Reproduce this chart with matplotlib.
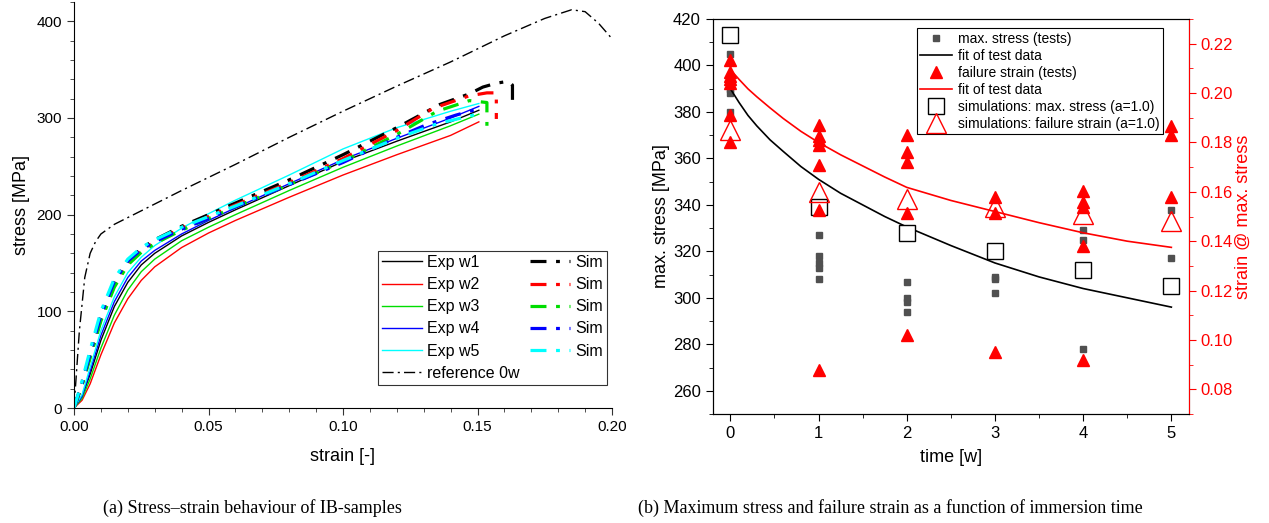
import matplotlib
matplotlib.use("Agg")
import matplotlib.pyplot as plt
from matplotlib.ticker import MultipleLocator
from matplotlib.lines import Line2D

plt.rcParams["font.family"] = ["Liberation Sans", "DejaVu Sans"]

# ---- (a) stress-strain curves ----
exp_strain = [0, 0.003, 0.006, 0.01, 0.015, 0.02, 0.025, 0.03, 0.04, 0.05, 0.06, 0.08, 0.10, 0.12, 0.14, 0.1505]
exp_w1 = [0, 12, 35, 70, 105, 130, 148, 160, 178, 192, 205, 230, 255, 276, 296, 308]
exp_w2 = [0, 8, 25, 55, 88, 113, 132, 146, 166, 181, 194, 218, 241, 262, 282, 296]
exp_w3 = [0, 10, 30, 62, 96, 122, 141, 154, 173, 187, 200, 225, 249, 271, 292, 304]
exp_w4 = [0, 12, 38, 75, 110, 135, 152, 163, 180, 194, 207, 232, 257, 279, 300, 312]
exp_w5 = [0, 14, 42, 80, 115, 140, 156, 168, 186, 201, 215, 241, 268, 290, 307, 315]

sim_w1_x = [0, 0.003, 0.006, 0.01, 0.015, 0.02, 0.025, 0.03, 0.04, 0.05, 0.06, 0.08, 0.10, 0.12, 0.136, 0.147, 0.152, 0.157, 0.1615, 0.163, 0.163]
sim_w1_y = [0, 25, 55, 95, 130, 152, 165, 174, 188, 200, 212, 236, 262, 290, 314, 325, 332, 336, 338, 334, 310]
sim_w2_x = [0, 0.003, 0.006, 0.01, 0.015, 0.02, 0.025, 0.03, 0.04, 0.05, 0.06, 0.08, 0.10, 0.12, 0.1335, 0.147, 0.1535, 0.157, 0.157]
sim_w2_y = [0, 24, 53, 92, 127, 150, 163, 172, 186, 198, 210, 233, 258, 287, 310, 323, 326, 326, 299]
sim_w3_x = [0, 0.003, 0.006, 0.01, 0.015, 0.02, 0.025, 0.03, 0.04, 0.05, 0.06, 0.08, 0.10, 0.12, 0.135, 0.147, 0.1535, 0.1535]
sim_w3_y = [0, 24, 52, 90, 125, 148, 161, 170, 184, 196, 208, 231, 255, 283, 307, 318, 316, 290]
sim_w4_x = [0, 0.003, 0.006, 0.01, 0.015, 0.02, 0.025, 0.03, 0.04, 0.05, 0.06, 0.08, 0.10, 0.12, 0.131, 0.142, 0.1497]
sim_w4_y = [0, 26, 56, 96, 131, 152, 164, 172, 185, 196, 208, 231, 254, 280, 293, 303, 309]
sim_w5_x = [0, 0.003, 0.006, 0.01, 0.015, 0.02, 0.025, 0.03, 0.04, 0.05, 0.06, 0.08, 0.10, 0.12, 0.135, 0.15]
sim_w5_y = [0, 28, 60, 100, 134, 154, 166, 174, 187, 198, 209, 232, 256, 279, 294, 304]

ref_strain = [0, 0.002, 0.004, 0.006, 0.008, 0.01, 0.015, 0.02, 0.04, 0.06, 0.08, 0.10, 0.12, 0.14, 0.16, 0.175, 0.185, 0.19, 0.195, 0.2]
ref_stress = [0, 80, 135, 160, 172, 180, 190, 197, 225, 252, 280, 307, 333, 358, 385, 403, 412, 410, 398, 382]

exp_curves = [exp_w1, exp_w2, exp_w3, exp_w4, exp_w5]
sim_curves = [(sim_w1_x, sim_w1_y), (sim_w2_x, sim_w2_y), (sim_w3_x, sim_w3_y),
              (sim_w4_x, sim_w4_y), (sim_w5_x, sim_w5_y)]
colors = ["black", "red", "#00dd00", "blue", "cyan"]
exp_labels = ["Exp w1", "Exp w2", "Exp w3", "Exp w4", "Exp w5"]

# ---- (b) immersion time data ----
t_stress = [0] * 4 + [1] * 5 + [2] * 4 + [3] * 3 + [4] * 3 + [5] * 2
max_stress = [405, 390, 388, 380,
              327, 318, 315, 313, 308,
              307, 300, 298, 294,
              309, 308, 302,
              329, 325, 278,
              338, 317]
t_strain = [0] * 7 + [1] * 7 + [2] * 5 + [3] * 3 + [4] * 5 + [5] * 3
fail_strain = [0.2135, 0.2085, 0.207, 0.2055, 0.204, 0.191, 0.180,
               0.187, 0.1825, 0.181, 0.179, 0.171, 0.1525, 0.088,
               0.183, 0.176, 0.172, 0.1515, 0.102,
               0.158, 0.1515, 0.095,
               0.1605, 0.156, 0.154, 0.138, 0.092,
               0.1865, 0.183, 0.158]
t_fit = [0, 0.1, 0.2, 0.3, 0.45, 0.6, 0.8, 1.0, 1.25, 1.5, 1.75, 2.0, 2.5, 3.0, 3.5, 4.0, 4.5, 5.0]
fit_stress = [390, 384, 378.5, 374, 368, 363, 356.5, 351, 345, 340, 335, 330.5, 322.5, 315, 309, 304, 300, 296]
fit_strain = [0.2095, 0.2055, 0.2017, 0.1985, 0.194, 0.1897, 0.1845, 0.180, 0.175, 0.1705,
              0.166, 0.1618, 0.1565, 0.152, 0.1475, 0.1434, 0.140, 0.1375]
t_sim = [0, 1, 2, 3, 4, 5]
sim_stress = [413, 339, 328, 320, 312, 305]
sim_strain = [0.185, 0.160, 0.157, 0.154, 0.151, 0.148]

W, H = 1269, 523
fig = plt.figure(figsize=(W / 100, H / 100), dpi=100)

# left panel
ax1 = fig.add_axes([74 / W, 1 - 408 / H, (612 - 74) / W, (408 - 2) / H])
handles = []
for y, c, lab in zip(exp_curves, colors, exp_labels):
    h, = ax1.plot(exp_strain, y, color=c, lw=1.0, label=lab)
    handles.append(h)
h_ref, = ax1.plot(ref_strain, ref_stress, color="black", lw=1.0, ls=(0, (8, 3, 1.5, 3)), label="reference 0w")
handles.append(h_ref)
for (x, y), c in zip(sim_curves, colors):
    h, = ax1.plot(x, y, color=c, lw=2.3, ls=(0, (5, 3, 1.2, 3)), label="Sim")
    handles.append(h)

ax1.set_xlim(0, 0.2)
ax1.set_ylim(0, 420)
ax1.spines["top"].set_visible(False)
ax1.spines["right"].set_visible(False)
ax1.xaxis.set_major_locator(MultipleLocator(0.05))
ax1.xaxis.set_minor_locator(MultipleLocator(0.01))
ax1.yaxis.set_major_locator(MultipleLocator(100))
ax1.yaxis.set_minor_locator(MultipleLocator(20))
ax1.xaxis.set_major_formatter(plt.FuncFormatter(lambda v, p: f"{v:.2f}"))
ax1.tick_params(labelsize=11, length=5, direction="out", colors="#333333", labelcolor="black")
ax1.tick_params(which="minor", length=3, colors="#333333")
ax1.set_xlabel("strain [-]", fontsize=13, labelpad=10)
ax1.set_ylabel("stress [MPa]", fontsize=13, labelpad=5)
leg1 = ax1.legend(handles=handles, ncol=2, loc="lower right", bbox_to_anchor=(0.99, 0.057),
                  fontsize=11.5, frameon=True, fancybox=False, edgecolor="black",
                  handlelength=2.5, columnspacing=0.7, labelspacing=0.45, borderpad=0.25,
                  handletextpad=0.3, borderaxespad=0.0)
leg1.get_frame().set_linewidth(0.8)

# right panel
ax2 = fig.add_axes([712.7 / W, 1 - 414 / H, (1189 - 712.7) / W, (414 - 19) / H])
ax3 = ax2.twinx()
ax2.plot(t_stress, max_stress, ls="none", marker="s", ms=5, color="#505050")
ax2.plot(t_fit, fit_stress, color="black", lw=1.2)
ax2.plot(t_sim, sim_stress, ls="none", marker="s", ms=12, mfc="white", mec="black", mew=1.0)
ax3.plot(t_strain, fail_strain, ls="none", marker="^", ms=8, color="red")
ax3.plot(t_fit, fit_strain, color="red", lw=1.2)
ax3.plot(t_sim, sim_strain, ls="none", marker="^", ms=15, mfc="none", mec="red", mew=1.0)

ax2.set_xlim(-0.2, 5.2)
ax2.set_ylim(250, 420)
ax3.set_ylim(0.07, 0.23)
ax2.xaxis.set_major_locator(MultipleLocator(1))
ax2.xaxis.set_minor_locator(MultipleLocator(0.5))
ax2.yaxis.set_major_locator(MultipleLocator(20))
ax2.yaxis.set_minor_locator(MultipleLocator(10))
ax3.yaxis.set_major_locator(MultipleLocator(0.02))
ax3.yaxis.set_minor_locator(MultipleLocator(0.01))
ax3.yaxis.set_major_formatter(plt.FuncFormatter(lambda v, p: f"{v:.2f}"))
ax2.tick_params(labelsize=12, length=5, direction="out")
ax2.tick_params(which="minor", length=3)
ax3.tick_params(axis="y", labelsize=12, length=5, direction="out", colors="red")
ax3.tick_params(axis="y", which="minor", length=3, colors="red")
ax3.spines["right"].set_color("red")
ax2.set_xlabel("time [w]", fontsize=13, labelpad=6)
ax2.set_ylabel("max. stress [MPa]", fontsize=13, labelpad=2)
ax3.set_ylabel("strain @ max. stress", fontsize=13, color="red", labelpad=1)

leg_handles = [
    Line2D([], [], ls="none", marker="s", ms=5, color="#505050"),
    Line2D([], [], color="black", lw=1.2),
    Line2D([], [], ls="none", marker="^", ms=8, color="red"),
    Line2D([], [], color="red", lw=1.2),
    Line2D([], [], ls="none", marker="s", ms=12, mfc="white", mec="black", mew=1.0),
    Line2D([], [], ls="none", marker="^", ms=15, mfc="none", mec="red", mew=1.0),
]
leg_labels = ["max. stress (tests)", "fit of test data", "failure strain (tests)",
              "fit of test data", "simulations: max. stress (a=1.0)",
              "simulations: failure strain (a=1.0)"]
leg2 = ax3.legend(leg_handles, leg_labels, loc="upper right", bbox_to_anchor=(0.945, 0.977),
                  fontsize=10, frameon=True, fancybox=False, edgecolor="black",
                  handlelength=2.3, labelspacing=0.22, borderpad=0.25, handletextpad=0.4,
                  framealpha=1, borderaxespad=0.0)
leg2.get_frame().set_linewidth(0.8)

fig.text(252 / W, 1 - 508 / H, "(a) Stress\u2013strain behaviour of IB-samples",
         family="Liberation Serif", fontsize=13, ha="center", va="center")
fig.text(890 / W, 1 - 508 / H, "(b) Maximum stress and failure strain as a function of immersion time",
         family="Liberation Serif", fontsize=13, ha="center", va="center")

fig.savefig("out.png", dpi=100)
